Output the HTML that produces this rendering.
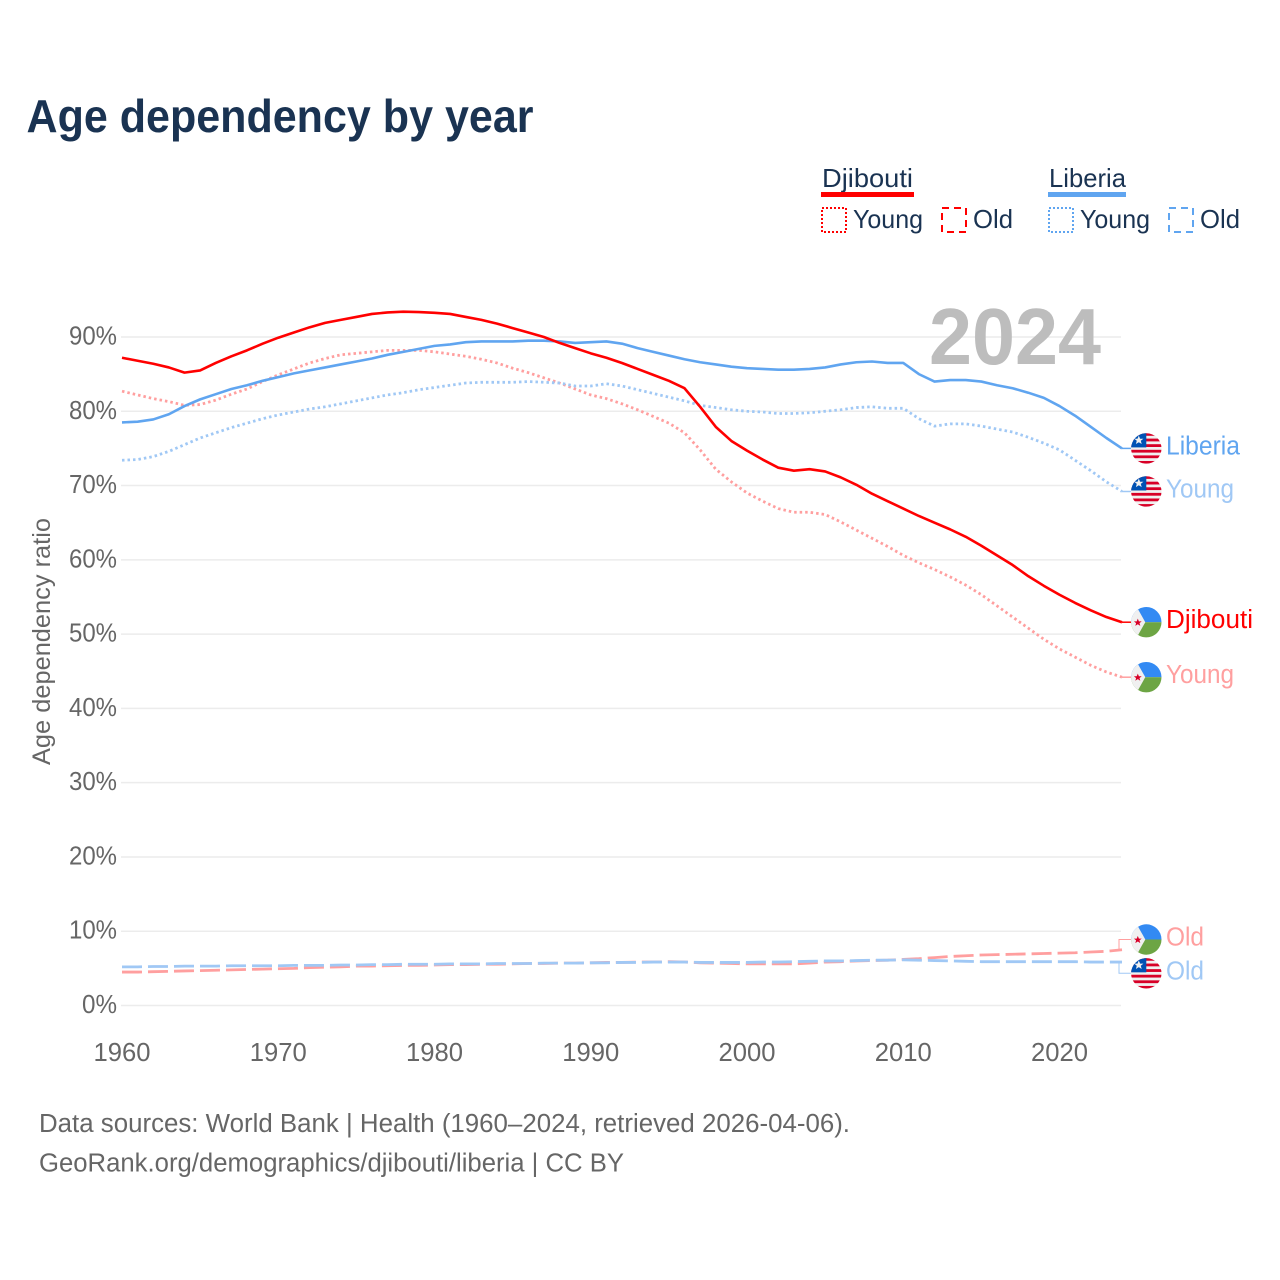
<!DOCTYPE html>
<html lang="en">
<head>
<meta charset="utf-8">
<title>Age dependency by year</title>
<style>
html,body{margin:0;padding:0;background:#fff;width:1280px;height:1280px;overflow:hidden}
svg{display:block;font-family:"Liberation Sans",sans-serif}
</style>
</head>
<body>
<svg id="chart" xmlns="http://www.w3.org/2000/svg" width="1280" height="1280" viewBox="0 0 1280 1280">
  <defs>
    <clipPath id="flag-clip"><circle cx="0" cy="0" r="15.2"/></clipPath>
  </defs>
  <rect x="0" y="0" width="1280" height="1280" fill="#fff"/>
  <text x="26.5" y="132" font-size="46" font-weight="700" fill="#1a3352" textLength="507" lengthAdjust="spacingAndGlyphs">Age dependency by year</text>

  <g font-size="26" fill="#1a3352">
    <text x="822" y="187" textLength="91" lengthAdjust="spacingAndGlyphs">Djibouti</text>
    <rect x="821" y="192" width="93" height="5" fill="#ff0000"/>
    <rect x="822" y="208" width="24" height="24" fill="none" stroke="#ff0000" stroke-width="2" stroke-dasharray="2 2"/>
    <text x="853" y="228" textLength="70" lengthAdjust="spacingAndGlyphs">Young</text>
    <rect x="942" y="208" width="24" height="24" fill="none" stroke="#ff0000" stroke-width="2" stroke-dasharray="7 5"/>
    <text x="973" y="228" textLength="40" lengthAdjust="spacingAndGlyphs">Old</text>
    <text x="1049" y="187" textLength="77" lengthAdjust="spacingAndGlyphs">Liberia</text>
    <rect x="1048" y="192" width="78" height="5" fill="#60a5f0"/>
    <rect x="1049" y="208" width="24" height="24" fill="none" stroke="#60a5f0" stroke-width="2" stroke-dasharray="2 2"/>
    <text x="1080" y="228" textLength="70" lengthAdjust="spacingAndGlyphs">Young</text>
    <rect x="1169" y="208" width="24" height="24" fill="none" stroke="#60a5f0" stroke-width="2" stroke-dasharray="7 5"/>
    <text x="1200" y="228" textLength="40" lengthAdjust="spacingAndGlyphs">Old</text>
  </g>

  <g id="grid"></g>
  <g id="yticks"></g>
  <g id="xticks"></g>
  <text x="929" y="364" font-size="80" font-weight="700" fill="#bdbdbd" textLength="172" lengthAdjust="spacingAndGlyphs">2024</text>
  <text transform="translate(50,641.5) rotate(-90)" text-anchor="middle" font-size="25" fill="#666" textLength="247" lengthAdjust="spacingAndGlyphs">Age dependency ratio</text>
  <g id="lines"></g>
  <g id="ends"></g>

  <text x="39" y="1132" font-size="25.5" fill="#666" textLength="811" lengthAdjust="spacingAndGlyphs">Data sources: World Bank | Health (1960–2024, retrieved 2026-04-06).</text>
  <text x="39" y="1171.5" font-size="25.5" fill="#666" textLength="585" lengthAdjust="spacingAndGlyphs">GeoRank.org/demographics/djibouti/liberia | CC BY</text>
</svg>
<script>
const years = [1960,1961,1962,1963,1964,1965,1966,1967,1968,1969,1970,1971,1972,1973,1974,1975,1976,1977,1978,1979,1980,1981,1982,1983,1984,1985,1986,1987,1988,1989,1990,1991,1992,1993,1994,1995,1996,1997,1998,1999,2000,2001,2002,2003,2004,2005,2006,2007,2008,2009,2010,2011,2012,2013,2014,2015,2016,2017,2018,2019,2020,2021,2022,2023,2024];
const djiboutiTotal = [87.2,86.8,86.4,85.9,85.2,85.5,86.5,87.4,88.2,89.1,89.9,90.6,91.3,91.9,92.3,92.7,93.1,93.3,93.4,93.35,93.25,93.1,92.7,92.3,91.8,91.2,90.6,90.0,89.2,88.5,87.8,87.2,86.5,85.7,84.9,84.1,83.1,80.6,77.9,76.0,74.7,73.5,72.4,72.0,72.2,71.9,71.1,70.1,68.9,67.9,66.9,65.9,65.0,64.1,63.1,61.9,60.6,59.3,57.8,56.5,55.3,54.2,53.2,52.3,51.6];
const djiboutiYoung = [82.7,82.2,81.7,81.3,80.8,80.9,81.5,82.3,83.0,84.0,84.9,85.7,86.5,87.1,87.6,87.8,88.0,88.2,88.2,88.2,88.0,87.7,87.4,87.0,86.5,85.8,85.2,84.5,83.8,83.0,82.2,81.7,81.0,80.2,79.3,78.4,77.1,74.8,72.2,70.5,69.0,67.9,66.9,66.4,66.4,66.1,65.1,64.0,62.9,61.8,60.6,59.6,58.7,57.7,56.6,55.3,53.8,52.3,50.8,49.3,48.0,46.9,45.8,44.9,44.2];
const djiboutiOld = [4.5,4.5,4.55,4.6,4.65,4.7,4.75,4.8,4.85,4.9,4.95,5.0,5.1,5.15,5.2,5.3,5.3,5.35,5.4,5.4,5.45,5.5,5.5,5.55,5.55,5.6,5.65,5.65,5.7,5.7,5.75,5.8,5.8,5.85,5.85,5.9,5.85,5.75,5.7,5.65,5.6,5.6,5.6,5.6,5.7,5.85,5.9,6.0,6.05,6.1,6.2,6.3,6.45,6.6,6.7,6.8,6.85,6.9,6.95,7.0,7.05,7.1,7.2,7.3,7.5];
const liberiaTotal = [78.5,78.6,78.9,79.6,80.7,81.6,82.3,83.0,83.5,84.1,84.6,85.1,85.5,85.9,86.3,86.7,87.1,87.6,88.0,88.4,88.8,89.0,89.3,89.4,89.4,89.4,89.5,89.5,89.4,89.2,89.3,89.4,89.1,88.5,88.0,87.5,87.0,86.6,86.3,86.0,85.8,85.7,85.6,85.6,85.7,85.9,86.3,86.6,86.7,86.5,86.5,85.0,84.0,84.2,84.2,84.0,83.5,83.1,82.5,81.8,80.7,79.4,77.9,76.4,75.0];
const liberiaYoung = [73.4,73.5,73.9,74.6,75.5,76.4,77.1,77.8,78.4,79.0,79.5,79.9,80.3,80.6,81.0,81.4,81.8,82.2,82.5,82.9,83.2,83.5,83.8,83.9,83.9,83.9,84.0,83.9,83.8,83.4,83.4,83.7,83.4,82.9,82.4,81.9,81.4,80.8,80.5,80.2,80.0,79.9,79.7,79.7,79.8,80.0,80.2,80.5,80.6,80.4,80.4,79.0,78.0,78.3,78.3,78.0,77.6,77.2,76.5,75.7,74.8,73.4,72.0,70.5,69.2];
const liberiaOld = [5.2,5.2,5.25,5.25,5.3,5.3,5.3,5.35,5.35,5.35,5.35,5.4,5.4,5.4,5.45,5.45,5.5,5.5,5.55,5.55,5.55,5.6,5.6,5.6,5.65,5.65,5.65,5.7,5.7,5.7,5.75,5.75,5.8,5.8,5.85,5.85,5.85,5.8,5.8,5.8,5.8,5.85,5.85,5.9,5.95,6.0,6.0,6.05,6.1,6.1,6.15,6.1,6.05,6.0,5.95,5.9,5.9,5.9,5.9,5.9,5.9,5.9,5.85,5.85,5.85];
const yTickValues = [0,10,20,30,40,50,60,70,80,90];
const xTickYears = [1960,1970,1980,1990,2000,2010,2020];

function x(year){return 122+(year-1960)*15.625;}
function y(value){return 1005.5-value*7.428;}

const SVGNS='http://www.w3.org/2000/svg';
function mk(tag,attrs,parent){
  const el=document.createElementNS(SVGNS,tag);
  for(const k in attrs){el.setAttribute(k,attrs[k]);}
  parent.appendChild(el);
  return el;
}
const grid=document.getElementById('grid');
const yticks=document.getElementById('yticks');
const xticks=document.getElementById('xticks');
const lines=document.getElementById('lines');
const ends=document.getElementById('ends');

yTickValues.forEach(function(v){
  const g=mk('line',{x1:x(1960)-1,x2:x(2024)-1,y1:y(v),y2:y(v),stroke:'#ececec','stroke-width':1.5},grid);
  
  
  const label=v+'%';
  const t=mk('text',{x:117,y:y(v)+7.5,'text-anchor':'end','font-size':25.5,fill:'#666',textLength:v===0?35:48,lengthAdjust:'spacingAndGlyphs'},yticks);
  t.textContent=label;
  
  
});
xTickYears.forEach(function(yr){
  const t=mk('text',{x:x(yr),y:1061,'text-anchor':'middle','font-size':25.5,fill:'#666',textLength:57,lengthAdjust:'spacingAndGlyphs'},xticks);
  t.textContent=String(yr);
  
  
});

const DOT='2.5 3', DASH='20 6';
const seriesList=[
  {key:'djibouti-old',values:djiboutiOld,color:'#ff9f9f',dash:DASH,w:2.8,label:'Old',flag:'dj',nudge:-10.3,tl:38,step:true},
  {key:'liberia-old',values:liberiaOld,color:'#a0c8f5',dash:DASH,w:2.8,label:'Old',flag:'lr',nudge:11.3,tl:38,step:true},
  {key:'djibouti-young',values:djiboutiYoung,color:'#ff9f9f',dash:DOT,w:2.8,label:'Young',flag:'dj',nudge:0,tl:68},
  {key:'liberia-young',values:liberiaYoung,color:'#a0c8f5',dash:DOT,w:2.8,label:'Young',flag:'lr',nudge:0,tl:68},
  {key:'liberia-total',values:liberiaTotal,color:'#60a5f0',dash:null,w:2.6,label:'Liberia',flag:'lr',nudge:0,tl:74},
  {key:'djibouti-total',values:djiboutiTotal,color:'#ff0000',dash:null,w:2.6,label:'Djibouti',flag:'dj',nudge:0,tl:87}
];

function drawFlag(kind,cy,parent){
  const g=mk('g',{transform:'translate(1146.3,'+cy+')','clip-path':'url(#flag-clip)'},parent);
  if(kind==='dj'){
    mk('rect',{x:-16,y:-16,width:32,height:16,fill:'#338af3'},g);
    mk('rect',{x:-16,y:0,width:32,height:16,fill:'#6da544'},g);
    mk('polygon',{points:'-16,-16 -10,-16 -1,0 -10,16 -16,16',fill:'#f0f0f0'},g);
    mk('polygon',{points:'-8.5,-3.6 -7.4,-0.9 -4.6,-0.9 -6.8,0.9 -6,3.6 -8.5,2 -11,3.6 -10.2,0.9 -12.4,-0.9 -9.6,-0.9',fill:'#d80027'},g);
  }else{
    mk('rect',{x:-16,y:-16,width:32,height:32,fill:'#f0f0f0'},g);
    const bands=[-15.4,-9.8,-4.2,1.4,7,12.6];
    bands.forEach(function(b){mk('rect',{x:-16,y:b,width:32,height:2.8,fill:'#d80027'},g);});
    mk('rect',{x:-16,y:-16,width:16,height:15,fill:'#0052b4'},g);
    mk('polygon',{points:'-7.5,-12.8 -6.2,-9.7 -2.9,-9.7 -5.5,-7.6 -4.6,-4.4 -7.5,-6.2 -10.4,-4.4 -9.5,-7.6 -12.1,-9.7 -8.8,-9.7',fill:'#f0f0f0'},g);
  }
  return g;
}

seriesList.forEach(function(s){
  const pts=s.values.map(function(v,i){return x(years[i]).toFixed(2)+','+y(v).toFixed(2);}).join(' ');
  const attrs={points:pts,fill:'none',stroke:s.color,'stroke-width':s.w,'stroke-linejoin':'round'};
  if(s.dash){attrs['stroke-dasharray']=s.dash;}
  const line=mk('polyline',attrs,lines);
  
  

  const endY=y(s.values[s.values.length-1]);
  const cy=endY+s.nudge;
  const path=s.step
    ? 'M1119 '+endY.toFixed(1)+' V'+cy.toFixed(1)+' H1131'
    : 'M1122 '+endY.toFixed(1)+' H1131';
  const conn=mk('path',{d:path,fill:'none',stroke:s.color,'stroke-width':s.step?1:1.5},ends);
  
  

  const flag=drawFlag(s.flag,cy,ends);
  
  

  const t=mk('text',{x:1166,y:cy+6,'font-size':25.5,fill:s.color,textLength:s.tl,lengthAdjust:'spacingAndGlyphs'},ends);
  t.textContent=s.label;
  
  
});
</script>
</body>
</html>
